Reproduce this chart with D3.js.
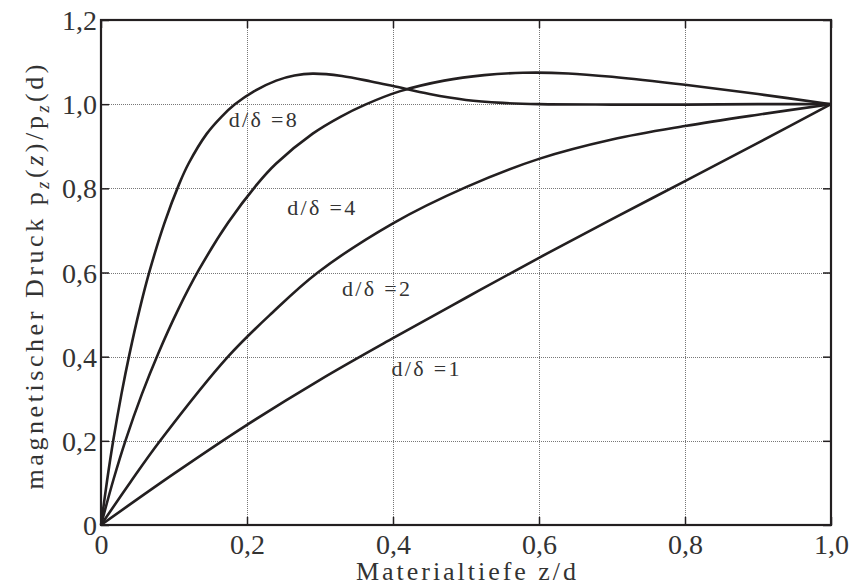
<!DOCTYPE html>
<html>
<head>
<meta charset="utf-8">
<script src="https://cdn.jsdelivr.net/npm/d3@7"></script>
<style>
  html, body { margin: 0; padding: 0; background: #fff; }
  svg { display: block; }
  svg text { font-family: "Liberation Serif", "DejaVu Serif", serif; fill: #333; }
</style>
</head>
<body>
<svg id="chart" width="853" height="588"></svg>
<script>
// ---- data ----
const xTickValues = [0, 0.2, 0.4, 0.6, 0.8, 1.0];
const xTickLabels = ["0", "0,2", "0,4", "0,6", "0,8", "1,0"];
const yTickValues = [0, 0.2, 0.4, 0.6, 0.8, 1.0, 1.2];
const yTickLabels = ["0", "0,2", "0,4", "0,6", "0,8", "1,0", "1,2"];

const seriesNames = ["d/δ =8", "d/δ =4", "d/δ =2", "d/δ =1"];

const curve8 = [
  [0, 0], [0.0085, 0.1075], [0.017, 0.203], [0.028, 0.311], [0.039, 0.406],
  [0.053, 0.513], [0.067, 0.606], [0.087, 0.718], [0.107, 0.81], [0.12, 0.859],
  [0.145, 0.93], [0.165, 0.97], [0.183, 0.999], [0.21, 1.031], [0.24, 1.056],
  [0.265, 1.068], [0.29, 1.0725], [0.33, 1.067], [0.37, 1.054], [0.4, 1.043],
  [0.45, 1.024], [0.5, 1.01], [0.55, 1.003], [0.6, 1.0], [0.7, 0.999],
  [0.8, 0.999], [0.9, 1.0], [1.0, 1.0]
];
const curve4 = [
  [0, 0], [0.017, 0.1075], [0.034, 0.203], [0.056, 0.311], [0.078, 0.406],
  [0.106, 0.513], [0.134, 0.606], [0.174, 0.718], [0.214, 0.81], [0.24, 0.859],
  [0.29, 0.93], [0.328, 0.97], [0.362, 0.999], [0.41, 1.031], [0.47, 1.056],
  [0.525, 1.069], [0.578, 1.0745], [0.64, 1.073], [0.7, 1.065], [0.8, 1.046],
  [0.9, 1.024], [1.0, 1.0]
];
const curve2 = [
  [0, 0], [0.04, 0.101], [0.081, 0.2], [0.174, 0.4], [0.235, 0.505], [0.297, 0.6],
  [0.4, 0.717], [0.5, 0.803], [0.6, 0.87], [0.7, 0.916], [0.8, 0.948],
  [0.9, 0.975], [1.0, 1.0]
];
const curve1 = [
  [0, 0], [0.1, 0.122], [0.2, 0.238], [0.3, 0.345], [0.4, 0.444], [0.5, 0.54],
  [0.6, 0.635], [0.7, 0.727], [0.8, 0.817], [0.9, 0.908], [1.0, 1.0]
];
const seriesData = [curve8, curve4, curve2, curve1];
// label anchor (data coords: left end / baseline)
const labelAnchors = [[0.175, 0.945], [0.255, 0.736], [0.33, 0.543], [0.398, 0.355]];

// ---- layout ----
const margin = { left: 101, right: 22, top: 20, bottom: 63 };
const W = 853, H = 588;
const svg = d3.select("#chart");
const x = d3.scaleLinear().domain([0, 1]).range([margin.left, W - margin.right]);
const y = d3.scaleLinear().domain([0, 1.2]).range([H - margin.bottom, margin.top]);
const FONT = "'Liberation Serif', 'DejaVu Serif', serif";

// grid
const grid = svg.append("g").attr("stroke", "#777").attr("stroke-width", 1)
  .attr("stroke-dasharray", "1,1");
grid.selectAll("line.v").data(xTickValues.filter(v => v > 0 && v < 1)).join("line")
  .attr("x1", d => Math.round(x(d)) + 0.5).attr("x2", d => Math.round(x(d)) + 0.5)
  .attr("y1", y(0)).attr("y2", y(1.2));
grid.selectAll("line.h").data(yTickValues.filter(v => v > 0 && v < 1.2)).join("line")
  .attr("y1", d => Math.round(y(d)) + 0.5).attr("y2", d => Math.round(y(d)) + 0.5)
  .attr("x1", x(0)).attr("x2", x(1));

// axes
const fmtX = (d, i) => xTickLabels[i];
const fmtY = (d, i) => yTickLabels[i];
const axB = svg.append("g").attr("transform", `translate(0,${y(0)})`)
  .call(d3.axisBottom(x).tickValues(xTickValues).tickFormat(fmtX).tickSizeInner(-8).tickSizeOuter(0).tickPadding(9));
const axT = svg.append("g").attr("transform", `translate(0,${y(1.2)})`)
  .call(d3.axisTop(x).tickValues(xTickValues).tickFormat("").tickSizeInner(-8).tickSizeOuter(0));
const axL = svg.append("g").attr("transform", `translate(${x(0)},0)`)
  .call(d3.axisLeft(y).tickValues(yTickValues).tickFormat(fmtY).tickSizeInner(-8).tickSizeOuter(0).tickPadding(4));
const axR = svg.append("g").attr("transform", `translate(${x(1)},0)`)
  .call(d3.axisRight(y).tickValues(yTickValues).tickFormat("").tickSizeInner(-8).tickSizeOuter(0));
[axB, axT, axL, axR].forEach(a => {
  a.attr("font-family", FONT);
  a.select(".domain").remove();
  a.selectAll(".tick line").attr("stroke", "#231f20").attr("stroke-width", 1.5);
  a.selectAll("text").style("font-family", FONT).attr("font-size", 28).attr("fill", "#333");
});
axL.selectAll("text").attr("dy", "0.34em");

// curves
const line = d3.line().x(d => x(d[0])).y(d => y(d[1])).curve(d3.curveCatmullRom.alpha(0.5));
svg.append("g").selectAll("path").data(seriesData).join("path")
  .attr("d", line).attr("fill", "none").attr("stroke", "#231f20")
  .attr("stroke-width", 2.6).attr("stroke-linejoin", "round");

// frame
svg.append("rect").attr("x", x(0)).attr("y", y(1.2))
  .attr("width", x(1) - x(0)).attr("height", y(0) - y(1.2))
  .attr("fill", "none").attr("stroke", "#231f20").attr("stroke-width", 2.2);

// curve labels
svg.append("g").selectAll("text").data(seriesNames).join("text")
  .attr("x", (d, i) => x(labelAnchors[i][0])).attr("y", (d, i) => y(labelAnchors[i][1]))
  .style("font-family", FONT)
  .attr("font-size", 22).attr("textLength", 68).attr("lengthAdjust", "spacing")
  .text(d => d);

// axis titles
svg.append("text").attr("x", x(0.5)).attr("y", 580).attr("text-anchor", "middle")
  .style("font-family", FONT)
  .attr("font-size", 26).attr("textLength", 220).attr("lengthAdjust", "spacing")
  .text("Materialtiefe z/d");

const yt = svg.append("text").attr("transform", "translate(43,277) rotate(-90)")
  .style("font-family", FONT)
  .attr("text-anchor", "middle").attr("font-size", 26)
  .attr("textLength", 425).attr("lengthAdjust", "spacing");
yt.append("tspan").text("magnetischer Druck p");
yt.append("tspan").attr("font-style", "italic").attr("font-size", 18).attr("dy", 6).text("z");
yt.append("tspan").attr("dy", -6).text("(");
yt.append("tspan").attr("font-style", "italic").text("z");
yt.append("tspan").text(")/p");
yt.append("tspan").attr("font-style", "italic").attr("font-size", 18).attr("dy", 6).text("z");
yt.append("tspan").attr("dy", -6).text("(d)");
</script>
</body>
</html>
